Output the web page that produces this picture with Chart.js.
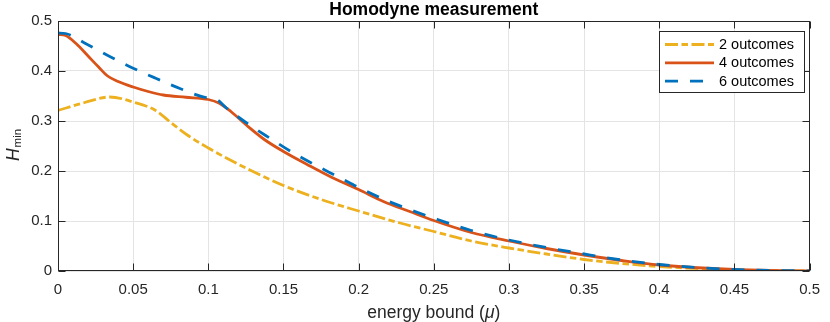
<!DOCTYPE html>
<html>
<head>
<meta charset="utf-8">
<script src="https://cdn.jsdelivr.net/npm/chart.js@4.4.1/dist/chart.umd.min.js"></script>
<style>
  html, body { margin: 0; padding: 0; background: #fff; }
</style>
</head>
<body>
<canvas id="chart" width="830" height="322"></canvas>
<script>
// values
const seriesLabels = ['2 outcomes', '4 outcomes', '6 outcomes'];

const x2 = [0, 0.0178, 0.0345, 0.05, 0.065, 0.075, 0.086, 0.1, 0.112, 0.127, 0.15, 0.175, 0.2, 0.225, 0.25, 0.275, 0.3, 0.325, 0.35, 0.375, 0.4, 0.45, 0.5];
const y2 = [0.321, 0.337, 0.348, 0.338, 0.321, 0.297, 0.272, 0.246, 0.226, 0.203, 0.171, 0.143, 0.12, 0.098, 0.079, 0.06, 0.046, 0.034, 0.023, 0.015, 0.009, 0.002, 0];

const x4 = [0, 0.005, 0.012, 0.02, 0.027, 0.033, 0.04, 0.05, 0.06, 0.07, 0.085, 0.1, 0.107, 0.115, 0.126, 0.1375, 0.15, 0.166, 0.181, 0.2, 0.2165, 0.234, 0.25, 0.275, 0.3, 0.325, 0.35, 0.375, 0.4, 0.45, 0.5];
const y4 = [0.473, 0.471, 0.455, 0.43, 0.408, 0.390, 0.379, 0.368, 0.359, 0.352, 0.3475, 0.343, 0.336, 0.319, 0.290, 0.2625, 0.239, 0.2126, 0.189, 0.163, 0.139, 0.119, 0.101, 0.077, 0.060, 0.045, 0.032, 0.021, 0.012, 0.003, 0];

const x6 = [0, 0.005, 0.0189, 0.0354, 0.05, 0.0654, 0.0819, 0.0984, 0.105, 0.112, 0.1265, 0.1413, 0.1555, 0.171, 0.1863, 0.2016, 0.2168, 0.2324, 0.249, 0.275, 0.3, 0.325, 0.35, 0.375, 0.4, 0.45, 0.5];
const y6 = [0.476, 0.475, 0.454, 0.4275, 0.4056, 0.385, 0.364, 0.347, 0.344, 0.326, 0.294, 0.265, 0.238, 0.212, 0.1886, 0.1647, 0.1433, 0.1247, 0.1068, 0.081, 0.062, 0.047, 0.034, 0.022, 0.013, 0.003, 0];

const xTickValues = [0, 0.05, 0.1, 0.15, 0.2, 0.25, 0.3, 0.35, 0.4, 0.45, 0.5];
const xTickLabels = ['0', '0.05', '0.1', '0.15', '0.2', '0.25', '0.3', '0.35', '0.4', '0.45', '0.5'];
const yTickValues = [0, 0.1, 0.2, 0.3, 0.4, 0.5];
const yTickLabels = ['0', '0.1', '0.2', '0.3', '0.4', '0.5'];

const FONT = '"Liberation Sans", Arial, Helvetica, sans-serif';
const AXIS = '#262626';
const colors = ['#EDB120', '#D95319', '#0072BD'];
const dashes = [[13, 3.5, 6.5, 3.5], [], [13, 12]];

function pts(xs, ys) {
  return xs.map((x, i) => ({ x: x, y: ys[i] }));
}

const decor = {
  id: 'decor',
  afterDatasetsDraw(chart) {
    const { ctx, chartArea: a, scales } = chart;
    ctx.save();
    ctx.strokeStyle = AXIS;
    ctx.lineWidth = 1;
    const L = Math.round(a.left) + 0.5, R = Math.round(a.right) - 0.5;
    const T = Math.round(a.top) + 0.5, B = Math.round(a.bottom) - 0.5;
    ctx.strokeRect(L, T, R - L, B - T);
    // inside ticks, all four sides
    const tl = 7;
    ctx.beginPath();
    xTickValues.forEach(v => {
      const px = Math.round(scales.x.getPixelForValue(v)) + 0.5;
      ctx.moveTo(px, B); ctx.lineTo(px, B - tl);
      ctx.moveTo(px, T); ctx.lineTo(px, T + tl);
    });
    yTickValues.forEach(v => {
      const py = Math.round(scales.y.getPixelForValue(v)) + 0.5;
      ctx.moveTo(L, py); ctx.lineTo(L + tl, py);
      ctx.moveTo(R, py); ctx.lineTo(R - tl, py);
    });
    ctx.stroke();
    ctx.restore();
  },
  afterDraw(chart) {
    const { ctx, chartArea: a } = chart;
    const cx = (a.left + a.right) / 2;
    ctx.save();
    ctx.fillStyle = '#000';
    ctx.textAlign = 'center';
    ctx.textBaseline = 'alphabetic';
    ctx.font = 'bold 17.5px ' + FONT;
    ctx.fillText('Homodyne measurement', cx, 14.5);

    // x axis title: energy bound (mu)
    ctx.fillStyle = AXIS;
    ctx.textAlign = 'left';
    const f1 = '17.5px ' + FONT, f2 = 'italic 17.5px ' + FONT;
    ctx.font = f1;
    const w1 = ctx.measureText('energy bound (').width;
    const w3 = ctx.measureText(')').width;
    ctx.font = f2;
    const w2 = ctx.measureText('\u03bc').width;
    let x0 = cx - (w1 + w2 + w3) / 2;
    ctx.font = f1; ctx.fillText('energy bound (', x0, 318);
    ctx.font = f2; ctx.fillText('\u03bc', x0 + w1, 318);
    ctx.font = f1; ctx.fillText(')', x0 + w1 + w2, 318);

    // y axis title: H_min
    ctx.translate(18.5, 145);
    ctx.rotate(-Math.PI / 2);
    const fh = 'italic 17.5px ' + FONT, fs = '11.5px ' + FONT;
    ctx.font = fh; const wh = ctx.measureText('H').width;
    ctx.font = fs; const ws = ctx.measureText('min').width;
    const s0 = -(wh + ws + 1) / 2;
    ctx.font = fh; ctx.fillText('H', s0, 0);
    ctx.font = fs; ctx.fillText('min', s0 + wh + 1, 2.5);
    ctx.restore();

    // legend
    ctx.save();
    const bx = 659.5, by = 31.5, bw = 145, bh = 61;
    ctx.fillStyle = '#fff';
    ctx.fillRect(bx, by, bw, bh);
    ctx.strokeStyle = AXIS;
    ctx.lineWidth = 1;
    ctx.strokeRect(bx, by, bw, bh);
    ctx.font = '14.5px ' + FONT;
    ctx.textBaseline = 'middle';
    chart.data.datasets.forEach((ds, i) => {
      const ly = 44.5 + i * 18.3;
      ctx.beginPath();
      ctx.strokeStyle = ds.borderColor;
      ctx.lineWidth = ds.borderWidth;
      ctx.setLineDash(ds.borderDash);
      ctx.moveTo(665, ly); ctx.lineTo(714, ly);
      ctx.stroke();
      ctx.setLineDash([]);
      ctx.fillStyle = '#000';
      ctx.fillText(ds.label, 719, ly + 0.5);
    });
    ctx.restore();
  }
};

const ds = [[x2, y2], [x4, y4], [x6, y6]].map((s, i) => ({
  label: seriesLabels[i],
  data: pts(s[0], s[1]),
  borderColor: colors[i],
  backgroundColor: colors[i],
  borderWidth: 2.8,
  borderDash: dashes[i],
  borderCapStyle: 'butt',
  pointRadius: 0,
  fill: false,
  cubicInterpolationMode: 'monotone',
  order: 3 - i
}));

new Chart(document.getElementById('chart'), {
  type: 'line',
  data: { datasets: ds },
  options: {
    responsive: false,
    animation: false,
    devicePixelRatio: 1,
    layout: { padding: { top: 21, right: 13, left: 0, bottom: 0 } },
    plugins: { legend: { display: false }, tooltip: { enabled: false }, title: { display: false } },
    scales: {
      x: {
        type: 'linear',
        min: 0, max: 0.5,
        afterBuildTicks: s => { s.ticks = xTickValues.map(v => ({ value: v })); },
        afterFit: s => { s.height = 51; },
        ticks: {
          callback: (v, i) => xTickLabels[i],
          font: { family: FONT, size: 15 },
          color: AXIS,
          padding: 10,
          maxRotation: 0,
          autoSkip: false
        },
        grid: { color: '#e4e4e4', drawTicks: false },
        border: { display: false }
      },
      y: {
        type: 'linear',
        min: 0, max: 0.5,
        afterBuildTicks: s => { s.ticks = yTickValues.map(v => ({ value: v })); },
        afterFit: s => { s.width = 58; },
        ticks: {
          callback: (v, i) => yTickLabels[i],
          font: { family: FONT, size: 15 },
          color: AXIS,
          padding: 6
        },
        grid: { color: '#e4e4e4', drawTicks: false },
        border: { display: false }
      }
    }
  },
  plugins: [decor]
});
</script>
</body>
</html>
